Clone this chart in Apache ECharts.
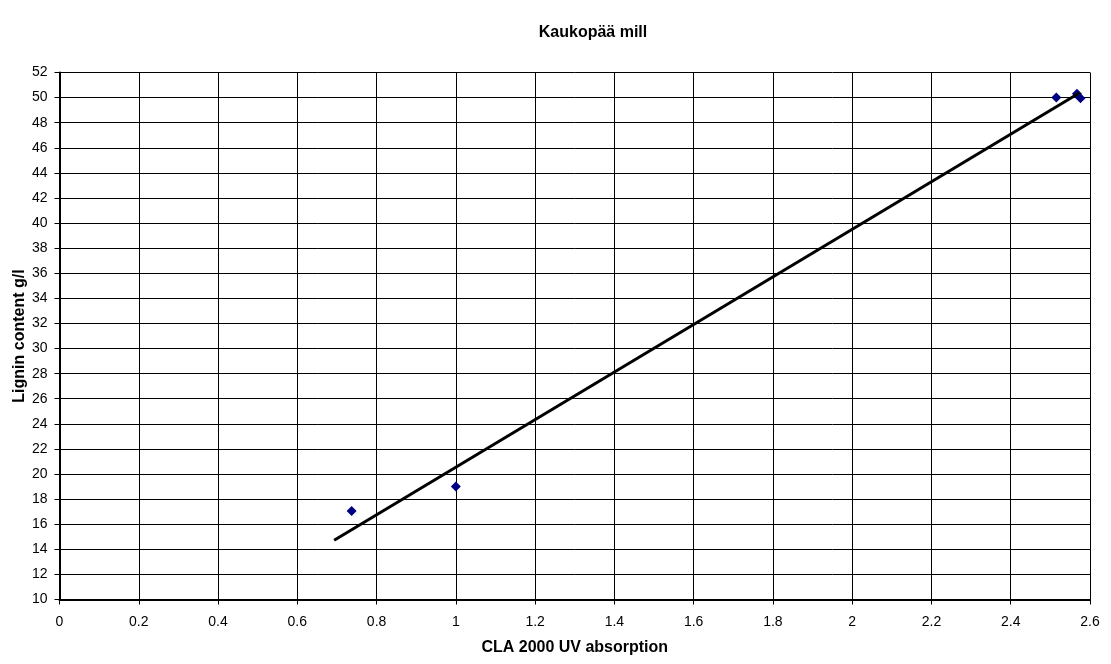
<!DOCTYPE html>
<html>
<head>
<meta charset="utf-8">
<script src="https://cdn.jsdelivr.net/npm/echarts@6/dist/echarts.min.js"></script>
<style>html,body{margin:0;padding:0;background:#fff}#c{width:1111px;height:664px}</style>
</head>
<body>
<div id="c"></div>
<script>
const titleText = "Kaukopää mill";
const xName = "CLA 2000 UV absorption";
const yName = "Lignin content g/l";
const measX = [0.737, 1.0, 2.515, 2.567, 2.576];
const measY = [17.05, 19.0, 50.0, 50.3, 49.95];
const trendX = [0.693, 2.574];
const trendY = [14.72, 50.39];

const chart = echarts.init(document.getElementById('c'));
const font = 'Liberation Sans, Arial, sans-serif';
chart.setOption({
  animation: false,
  backgroundColor: '#fff',
  title: {
    text: titleText, left: 588, top: 20, textAlign: 'center',
    textStyle: {fontFamily: font, fontSize: 16, fontWeight: 'bold', color: '#000'}
  },
  grid: {left: 59.5, right: 21, top: 72.5, bottom: 64.5, containLabel: false, outerBoundsMode: 'none'},
  xAxis: {
    type: 'value', min: 0, max: 2.6, interval: 0.2,
    name: xName, nameLocation: 'middle', nameGap: 40, nameMoveOverlap: false,
    nameTextStyle: {fontFamily: font, fontSize: 16, fontWeight: 'bold', color: '#000'},
    axisLine: {show: true, lineStyle: {color: '#000', width: 2}},
    axisTick: {show: true, inside: false, length: 5, lineStyle: {color: '#000', width: 1}},
    axisLabel: {fontFamily: font, fontSize: 14, color: '#000', margin: 16},
    splitLine: {show: true, lineStyle: {color: '#000', width: 1}}
  },
  yAxis: {
    type: 'value', min: 10, max: 52, interval: 2,
    name: yName, nameLocation: 'middle', nameGap: 32, nameRotate: 90, nameMoveOverlap: false,
    nameTextStyle: {fontFamily: font, fontSize: 16, fontWeight: 'bold', color: '#000'},
    axisLine: {show: true, lineStyle: {color: '#000', width: 2}},
    axisTick: {show: true, inside: false, length: 5, lineStyle: {color: '#000', width: 1}},
    axisLabel: {fontFamily: font, fontSize: 14, color: '#000', margin: 12},
    splitLine: {show: true, lineStyle: {color: '#000', width: 1}}
  },
  series: [
    {
      type: 'scatter', symbol: 'diamond', symbolSize: 10,
      itemStyle: {color: '#000080', opacity: 1},
      data: measX.map((x, i) => [x, measY[i]]), z: 3
    },
    {
      type: 'line', showSymbol: false, symbol: 'none',
      lineStyle: {color: '#000', width: 3},
      data: trendX.map((x, i) => [x, trendY[i]]), z: 4
    }
  ]
});
</script>
</body>
</html>
